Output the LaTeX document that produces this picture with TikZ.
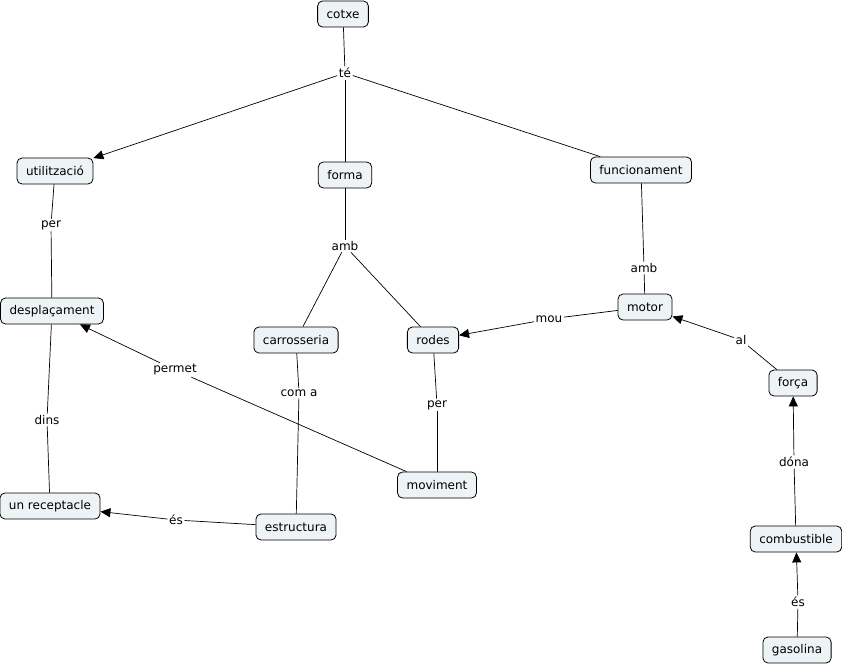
\documentclass[tikz,border=0pt]{standalone}
\usepackage{fontspec}
\setmainfont{DejaVu Sans}
\usetikzlibrary{arrows.meta}
\definecolor{conceptfill}{RGB}{238,243,246}
\tikzset{
  concept/.style={draw=black, line width=0.8pt, fill=conceptfill, rounded corners=5pt,
    minimum height=26pt, inner xsep=9pt, inner ysep=2pt, font=\fontsize{12}{14}\selectfont},
  linklabel/.style={inner sep=1.5pt, font=\fontsize{12}{14}\selectfont},
  link/.style={draw=black, line width=0.7pt},
  arr/.style={link, -{Triangle[length=10pt,width=9pt]}}
}
\begin{document}
\begin{tikzpicture}[x=1pt,y=-1pt]
\useasboundingbox (0,0) rectangle (842,668);
% concepts
\node[concept] (cotxe) at (343,14) {cotxe};
\node[concept] (util) at (55,171) {utilització};
\node[concept] (forma) at (345,175) {forma};
\node[concept] (func) at (641,170) {funcionament};
\node[concept] (despl) at (52,311) {desplaçament};
\node[concept] (motor) at (645,307) {motor};
\node[concept] (carr) at (296,340) {carrosseria};
\node[concept] (rodes) at (433,340) {rodes};
\node[concept] (forca) at (793,383) {força};
\node[concept] (movi) at (437,485) {moviment};
\node[concept] (recep) at (50,506) {un receptacle};
\node[concept] (estr) at (296,527) {estructura};
\node[concept] (comb) at (796,539) {combustible};
\node[concept] (gas) at (797,650) {gasolina};
% link labels
\node[linklabel] (te) at (345,73) {té};
\node[linklabel] (per1) at (51,225) {per};
\node[linklabel] (amb1) at (345,246) {amb};
\node[linklabel] (amb2) at (644,268) {amb};
\node[linklabel] (mou) at (549,319) {mou};
\node[linklabel] (al) at (741,340) {al};
\node[linklabel] (permet) at (175,370) {permet};
\node[linklabel] (coma) at (299,393) {com a};
\node[linklabel] (per2) at (437,405) {per};
\node[linklabel] (dins) at (47,420) {dins};
\node[linklabel] (dona) at (794,462) {dóna};
\node[linklabel] (es1) at (176,520) {és};
\node[linklabel] (es2) at (798,602) {és};
% connectors
\draw[link] (cotxe) -- (te);
\draw[arr] (te) -- (util);
\draw[link] (te) -- (forma);
\draw[link] (te) -- (func);
\draw[link] (util) -- (per1);
\draw[link] (per1) -- (despl);
\draw[link] (forma) -- (amb1);
\draw[link] (amb1) -- (carr);
\draw[link] (amb1) -- (rodes);
\draw[link] (func) -- (amb2);
\draw[link] (amb2) -- (motor);
\draw[link] (motor) -- (mou);
\draw[arr] (mou) -- (rodes);
\draw[link] (forca) -- (al);
\draw[arr] (al) -- (motor);
\draw[link] (movi) -- (permet);
\draw[arr] (permet) -- (despl);
\draw[link] (carr) -- (coma);
\draw[link] (coma) -- (estr);
\draw[link] (rodes) -- (per2);
\draw[link] (per2) -- (movi);
\draw[link] (despl) -- (dins);
\draw[link] (dins) -- (recep);
\draw[link] (comb) -- (dona);
\draw[arr] (dona) -- (forca);
\draw[link] (estr) -- (es1);
\draw[arr] (es1) -- (recep);
\draw[link] (gas) -- (es2);
\draw[arr] (es2) -- (comb);
\end{tikzpicture}
\end{document}
